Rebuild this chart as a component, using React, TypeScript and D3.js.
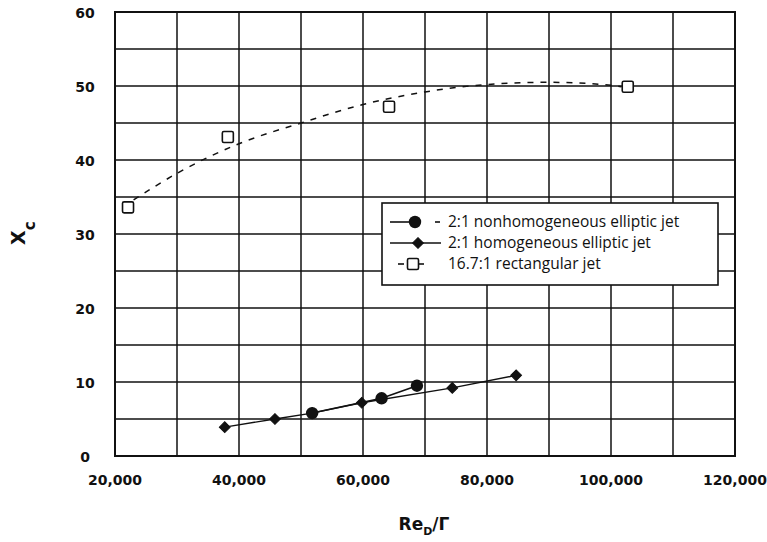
import React from "react";
import * as d3 from "d3";

// Measured penetration length X_c against Re_D/Γ
const reRect = [22100, 38200, 64200, 102700];
const xcRect = [33.6, 43.1, 47.2, 49.9];
// hand-fitted trend curve through the rectangular-jet points
const reRectFit = [23000, 30000, 40000, 50000, 60000, 70000, 80000, 90000, 100000, 101700];
const xcRectFit = [34.6, 38.2, 42.2, 45.0, 47.5, 49.2, 50.2, 50.5, 50.1, 49.9];

const reNonhom = [51800, 63000, 68700];
const xcNonhom = [5.8, 7.8, 9.5];

const reHom = [37700, 45800, 51800, 59800, 74400, 84700];
const xcHom = [3.9, 5.0, 5.8, 7.2, 9.2, 10.9];

const xGrid = [20000, 30000, 40000, 50000, 60000, 70000, 80000, 90000, 100000, 110000, 120000];
const xLabelValues = [20000, 40000, 60000, 80000, 100000, 120000];
const xLabels = ["20,000", "40,000", "60,000", "80,000", "100,000", "120,000"];
const yGrid = [0, 5, 10, 15, 20, 25, 30, 35, 40, 45, 50, 55, 60];
const yLabelValues = [0, 10, 20, 30, 40, 50, 60];

const seriesNames = [
  "2:1 nonhomogeneous elliptic jet",
  "2:1 homogeneous elliptic jet",
  "16.7:1 rectangular jet",
];

const W = 767;
const H = 542;
const left = 115;
const right = 735;
const top = 12;
const bottom = 456;

export default function App() {
  const x = d3.scaleLinear().domain([20000, 120000]).range([left, right]);
  const y = d3.scaleLinear().domain([0, 60]).range([bottom, top]);

  const straight = d3
    .line<[number, number]>()
    .x((d) => x(d[0]))
    .y((d) => y(d[1]));
  const smooth = d3
    .line<[number, number]>()
    .x((d) => x(d[0]))
    .y((d) => y(d[1]))
    .curve(d3.curveMonotoneX);

  const rectFit = reRectFit.map((r, i) => [r, xcRectFit[i]] as [number, number]);
  const nonhom = reNonhom.map((r, i) => [r, xcNonhom[i]] as [number, number]);
  const hom = reHom.map((r, i) => [r, xcHom[i]] as [number, number]);
  const rect = reRect.map((r, i) => [r, xcRect[i]] as [number, number]);

  // square turned 45° for the homogeneous-jet markers
  const diamond = d3.symbol().type(d3.symbolSquare).size(58)() as string;

  const tickFont = "'DejaVu Sans', sans-serif";
  const legendFont = "'Open Sans', sans-serif";

  const lgX = 382;
  const lgY = 203;
  const lgW = 336;
  const lgH = 82;
  const rowY = [222, 243, 264];

  return (
    <svg
      width={W}
      height={H}
      viewBox={`0 0 ${W} ${H}`}
      style={{ position: "absolute", left: 0, top: 0, background: "#fff" }}
    >
      <rect x={0} y={0} width={W} height={H} fill="#fff" />

      {/* grid */}
      <g stroke="#111" strokeWidth={1.5}>
        {xGrid.map((v) => (
          <line key={"gx" + v} x1={x(v)} x2={x(v)} y1={top} y2={bottom} />
        ))}
        {yGrid.map((v) => (
          <line key={"gy" + v} x1={left} x2={right} y1={y(v)} y2={y(v)} />
        ))}
      </g>
      <rect
        x={left}
        y={top}
        width={right - left}
        height={bottom - top}
        fill="none"
        stroke="#111"
        strokeWidth={2}
      />

      {/* y tick labels */}
      <g fontFamily={tickFont} fontWeight="bold" fontSize={14} fill="#111" textAnchor="middle">
        {yLabelValues.map((v) => (
          <text key={"yl" + v} x={85} y={y(v) + 6}>
            {v}
          </text>
        ))}
      </g>

      {/* x tick labels */}
      <g fontFamily={tickFont} fontWeight="bold" fontSize={14} fill="#111" textAnchor="middle">
        {xLabelValues.map((v, i) => (
          <text key={"xl" + v} x={x(v)} y={485}>
            {xLabels[i]}
          </text>
        ))}
      </g>

      {/* axis titles */}
      <text
        transform="translate(25,245) rotate(-90)"
        fontFamily={tickFont}
        fontWeight="bold"
        fontSize={19}
        fill="#111"
      >
        X
        <tspan fontSize={15} dy={10}>
          c
        </tspan>
      </text>
      <text
        x={424}
        y={530}
        textAnchor="middle"
        fontFamily={tickFont}
        fontWeight="bold"
        fontSize={17}
        fill="#111"
      >
        Re
        <tspan fontSize={11} dy={5}>
          D
        </tspan>
        <tspan dy={-5}>/Γ</tspan>
      </text>

      {/* rectangular jet: dashed fit and open squares */}
      <path
        d={smooth(rectFit) as string}
        fill="none"
        stroke="#111"
        strokeWidth={1.5}
        strokeDasharray="6,7"
      />
      {rect.map((d, i) => (
        <rect
          key={"sq" + i}
          x={x(d[0]) - 5.5}
          y={y(d[1]) - 5.5}
          width={11}
          height={11}
          rx={1.5}
          fill="#fff"
          stroke="#111"
          strokeWidth={1.6}
        />
      ))}

      {/* homogeneous elliptic jet */}
      <path d={straight(hom) as string} fill="none" stroke="#111" strokeWidth={1.4} />
      {hom.map((d, i) => (
        <path
          key={"dm" + i}
          d={diamond}
          transform={`translate(${x(d[0])},${y(d[1])}) rotate(45)`}
          fill="#111"
          stroke="#111"
          strokeWidth={1}
        />
      ))}

      {/* nonhomogeneous elliptic jet */}
      <path d={straight(nonhom) as string} fill="none" stroke="#111" strokeWidth={1.6} />
      {nonhom.map((d, i) => (
        <circle key={"ci" + i} cx={x(d[0])} cy={y(d[1])} r={6.2} fill="#111" />
      ))}

      {/* legend */}
      <rect
        x={lgX}
        y={lgY}
        width={lgW}
        height={lgH}
        fill="#fff"
        stroke="#111"
        strokeWidth={1.6}
      />
      <g stroke="#111" strokeWidth={1.6}>
        <line x1={390} x2={415} y1={rowY[0]} y2={rowY[0]} />
        <line x1={435} x2={440} y1={rowY[0]} y2={rowY[0]} />
        <line x1={390} x2={441} y1={rowY[1]} y2={rowY[1]} />
        <line x1={398} x2={404} y1={rowY[2]} y2={rowY[2]} />
        <line x1={418} x2={424} y1={rowY[2]} y2={rowY[2]} />
      </g>
      <circle cx={415} cy={rowY[0]} r={6.2} fill="#111" />
      <path
        d={diamond}
        transform={`translate(418,${rowY[1]}) rotate(45)`}
        fill="#111"
        stroke="#111"
      />
      <rect
        x={407.5}
        y={rowY[2] - 5.5}
        width={11}
        height={11}
        rx={1.5}
        fill="#fff"
        stroke="#111"
        strokeWidth={1.6}
      />
      <g fontFamily={legendFont} fontSize={15.5} fill="#111">
        {seriesNames.map((s, i) => (
          <text key={s} x={448} y={rowY[i] + 5}>
            {s}
          </text>
        ))}
      </g>
    </svg>
  );
}
